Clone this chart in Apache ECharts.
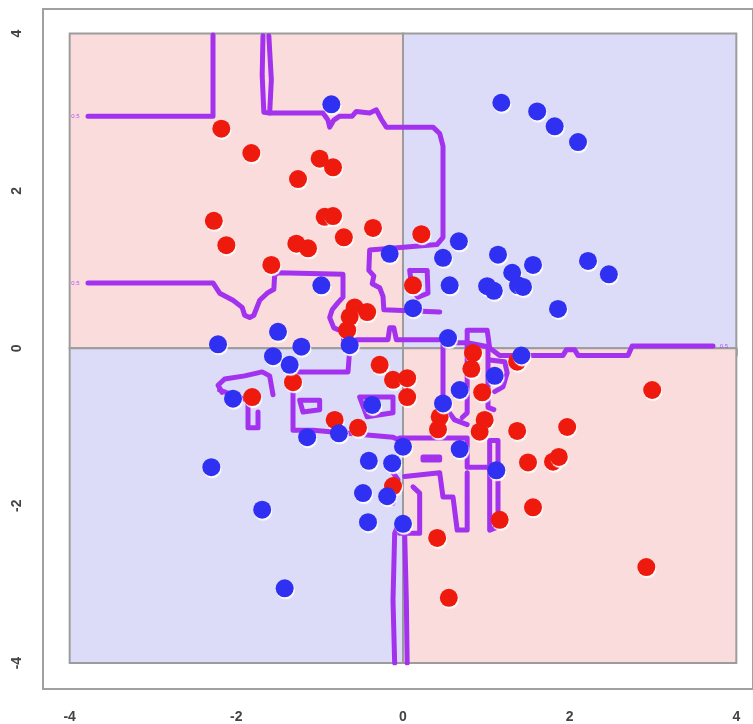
<!DOCTYPE html>
<html><head><meta charset="utf-8">
<script src="https://cdn.jsdelivr.net/npm/echarts@6/dist/echarts.min.js"></script>
<style>html,body{margin:0;padding:0;background:#fff}#c{width:753px;height:724px}</style>
</head><body><div id="c"></div>
<script>
// axis ticks
const tickValues = [-4, -2, 0, 2, 4];
// quadrant rectangles: [x0, y0, x1, y1, class] (class 0 = red region, 1 = blue region)
const quadrants = [[-4, 0, 0, 4, 0], [0, 0, 4, 4, 1], [-4, -4, 0, 0, 1], [0, -4, 4, 0, 0]];
// red class points
const redPoints = [
  [-2.18, 2.79], [-1.82, 2.48], [-1.00, 2.41], [-0.84, 2.30], [-1.26, 2.15], [-2.27, 1.62], [-2.12, 1.31],
  [-1.28, 1.33], [-1.14, 1.27], [-0.94, 1.67], [-0.84, 1.68], [-0.36, 1.53], [-0.71, 1.41], [-1.58, 1.06],
  [0.22, 1.45], [0.12, 0.80], [-0.58, 0.52], [-0.43, 0.46], [-0.64, 0.40], [-0.67, 0.23], [-1.32, -0.43],
  [-1.81, -0.62], [-0.28, -0.21], [-0.12, -0.40], [0.05, -0.38], [0.05, -0.62], [-0.82, -0.91], [-0.54, -1.01],
  [-0.12, -1.75], [0.84, -0.06], [0.82, -0.26], [1.37, -0.17], [0.95, -0.56], [2.99, -0.53], [0.44, -0.87],
  [0.42, -1.03], [0.98, -0.91], [0.92, -1.06], [1.37, -1.05], [1.97, -1.00], [1.50, -1.45], [1.80, -1.44],
  [1.87, -1.38], [1.56, -2.02], [1.16, -2.18], [0.41, -2.41], [2.92, -2.78], [0.55, -3.17]
];
// blue class points
const bluePoints = [
  [-0.86, 3.10], [1.18, 3.12], [1.61, 3.01], [1.82, 2.82], [2.10, 2.62], [-0.16, 1.20], [0.67, 1.36],
  [0.48, 1.15], [1.14, 1.19], [1.56, 1.06], [1.31, 0.96], [2.22, 1.11], [2.47, 0.94], [0.56, 0.80],
  [1.01, 0.79], [1.09, 0.73], [1.38, 0.80], [1.44, 0.78], [1.86, 0.50], [0.12, 0.51], [0.54, 0.13],
  [-0.98, 0.80], [-1.50, 0.21], [-2.22, 0.05], [-1.22, 0.02], [-1.56, -0.10], [-1.36, -0.21], [-0.64, 0.04],
  [1.42, -0.09], [1.10, -0.35], [0.68, -0.53], [0.48, -0.70], [-2.04, -0.64], [-0.37, -0.72], [-1.15, -1.13],
  [-0.77, -1.08], [0.00, -1.25], [0.68, -1.28], [1.12, -1.55], [-0.41, -1.43], [-0.13, -1.46], [-2.30, -1.51],
  [-0.48, -1.84], [-0.19, -1.88], [-1.69, -2.05], [-0.42, -2.21], [0.00, -2.23], [-1.42, -3.05]
];
// 0.5 level decision-boundary contour pieces
const contourPaths = [
  [[-3.78, 2.95], [-2.28, 2.95], [-2.28, 3.98]],
  [[-1.68, 3.97], [-1.69, 3.47], [-1.67, 3.00], [-1.60, 2.99]],
  [[-1.61, 3.97], [-1.58, 3.41], [-1.60, 2.99], [-0.96, 2.99], [-0.90, 2.90], [-0.88, 2.81], [-0.83, 2.90],
   [-0.76, 2.95], [-0.61, 2.95], [-0.56, 3.01], [-0.40, 2.99], [-0.32, 3.03], [-0.26, 2.91], [-0.20, 2.81],
   [0.36, 2.81], [0.44, 2.73], [0.48, 2.57], [0.48, 1.41], [0.41, 1.32], [-0.40, 1.25], [-0.41, 0.99],
   [-0.35, 0.92], [-0.37, 0.82], [-0.28, 0.77], [-0.24, 0.66], [-0.23, 0.49], [0.44, 0.46]],
  [[-3.78, 0.83], [-2.28, 0.83], [-2.20, 0.70], [-2.04, 0.61], [-1.93, 0.52], [-1.90, 0.42], [-1.84, 0.39],
   [-1.79, 0.42], [-1.72, 0.61], [-1.63, 0.70], [-1.55, 0.75], [-1.54, 0.93], [-1.50, 0.96], [-0.72, 0.94],
   [-0.72, 0.65], [-0.78, 0.58], [-0.85, 0.49], [-0.88, 0.39], [-0.83, 0.26], [-0.72, 0.21], [-0.71, 0.11],
   [-0.18, 0.11], [-0.16, 0.26], [-0.11, 0.26], [-0.08, 0.11], [0.48, 0.11]],
  [[0.08, 0.99], [0.29, 0.99], [0.30, 0.70], [0.18, 0.65], [0.11, 0.74], [0.08, 0.99]],
  [[0.48, 0.11], [0.48, -0.66], [0.53, -0.78], [0.62, -0.91], [0.77, -0.97]],
  [[3.72, 0.03], [2.75, 0.03], [2.70, -0.09], [2.10, -0.09], [2.06, -0.02], [1.96, -0.02], [1.92, -0.09],
   [1.16, -0.09], [1.02, 0.02], [0.77, 0.07], [0.50, 0.07]],
  [[0.77, 0.04], [0.77, 0.23], [1.01, 0.23], [1.04, 0.00]],
  [[0.77, 0.07], [0.77, -0.82], [0.71, -0.88]],
  [[1.02, 0.02], [1.02, -0.75], [1.09, -0.78]],
  [[1.04, -0.15], [1.22, -0.17], [1.25, -0.31], [1.20, -0.49], [1.10, -0.55]],
  [[-0.04, -1.14], [0.77, -1.14], [0.77, -1.51], [1.08, -1.51]],
  [[1.04, -1.17], [1.14, -1.17], [1.14, -2.27], [1.04, -2.31], [1.04, -1.17]],
  [[0.02, -1.63], [0.44, -1.58], [0.48, -1.89], [0.60, -1.89], [0.65, -2.31], [0.77, -2.31], [0.77, -1.58]],
  [[-0.04, -2.35], [0.20, -2.35], [0.20, -1.84], [0.12, -1.76]],
  [[0.24, -1.38], [0.44, -1.38], [0.44, -1.42], [0.24, -1.42], [0.24, -1.38]],
  [[-0.10, -4.0], [-0.12, -3.20], [-0.10, -2.35], [-0.04, -2.21], [0.02, -2.35], [0.04, -3.20], [0.05, -4.0]],
  [[-0.12, -1.58], [-0.06, -1.67], [-0.12, -1.97]],
  [[-2.17, -0.56], [-2.22, -0.47], [-2.14, -0.39], [-1.90, -0.35], [-1.69, -0.30], [-1.60, -0.35], [-1.56, -0.59]],
  [[-2.20, -0.53], [-1.87, -0.66]],
  [[-1.86, -0.72], [-1.86, -1.01], [-1.74, -1.01], [-1.74, -0.81]],
  [[-0.71, 0.11], [-0.64, -0.02], [-0.66, -0.30], [-1.32, -0.30], [-1.32, -1.04], [-1.08, -1.04], [-0.12, -1.13],
   [-0.04, -1.17], [0.05, -1.29]],
  [[-1.24, -0.66], [-1.00, -0.66], [-1.00, -0.78], [-1.20, -0.81], [-1.24, -0.66]],
  [[-0.52, -0.62], [-0.12, -0.62], [-0.12, -0.82], [-0.43, -0.87], [-0.52, -0.62]]
];
// positions of the small contour level labels
const contourLabels = [[-3.93, 2.95], [-3.93, 0.83], [3.85, 0.03]];

const quadColors = ['#fadcdc', '#dcdcf9'];
const purple = '#a232ee';
const labelStyle = { color: '#444', fontSize: 14, fontWeight: 'bold', fontFamily: 'Liberation Sans, Arial, sans-serif' };

const chart = echarts.init(document.getElementById('c'), null, { renderer: 'canvas' });

const series = [
  {
    type: 'custom', xAxisIndex: 1, yAxisIndex: 1, z: 1,
    data: quadrants,
    encode: { x: [0, 2], y: [1, 3] },
    renderItem: function (params, api) {
      const p0 = api.coord([api.value(0), api.value(3)]);
      const p1 = api.coord([api.value(2), api.value(1)]);
      return {
        type: 'rect',
        shape: { x: p0[0], y: p0[1], width: p1[0] - p0[0], height: p1[1] - p0[1] },
        style: { fill: quadColors[api.value(4)], stroke: '#9c9c9c', lineWidth: 2 }
      };
    },
    silent: true
  }
];
contourPaths.forEach(function (path) {
  series.push({
    type: 'line', xAxisIndex: 1, yAxisIndex: 1, z: 3,
    data: path, showSymbol: false, symbol: 'none', silent: true, animation: false,
    lineStyle: { color: purple, width: 5, cap: 'round', join: 'round' }
  });
});
series.push({
  type: 'scatter', xAxisIndex: 1, yAxisIndex: 1, z: 4,
  data: contourLabels, symbolSize: 0, silent: true,
  label: { show: true, formatter: '0.5', fontSize: 6, color: purple, position: 'inside' }
});
series.push({
  type: 'scatter', xAxisIndex: 1, yAxisIndex: 1, z: 5, data: redPoints, symbolSize: 18,
  itemStyle: { color: '#ee1a0e', opacity: 1, shadowColor: 'rgba(255,255,255,0.95)', shadowOffsetX: 1, shadowOffsetY: 2, shadowBlur: 1 }
});
series.push({
  type: 'scatter', xAxisIndex: 1, yAxisIndex: 1, z: 5, data: bluePoints, symbolSize: 18,
  itemStyle: { color: '#3030f2', opacity: 1, shadowColor: 'rgba(255,255,255,0.95)', shadowOffsetX: 1, shadowOffsetY: 2, shadowBlur: 1 }
});

chart.setOption({
  animation: false,
  backgroundColor: '#ffffff',
  grid: [
    { left: 43, top: 9, width: 720, height: 680, show: true, borderColor: '#a0a0a0', borderWidth: 2, backgroundColor: 'transparent', z: 0 },
    { left: 69.67, top: 33.5, width: 666.67, height: 629.6 }
  ],
  xAxis: [
    { gridIndex: 0, type: 'value', min: -4.32, max: 4.32, show: false },
    {
      gridIndex: 1, type: 'value', min: tickValues[0], max: tickValues[tickValues.length - 1], interval: 2,
      position: 'bottom', offset: 25.9,
      axisLine: { show: false }, splitLine: { show: false },
      axisTick: { show: true, length: 8, lineStyle: { color: '#999', width: 1.5 } },
      axisLabel: Object.assign({ margin: 21 }, labelStyle)
    }
  ],
  yAxis: [
    { gridIndex: 0, type: 'value', min: -4.32, max: 4.32, show: false },
    {
      gridIndex: 1, type: 'value', min: tickValues[0], max: tickValues[tickValues.length - 1], interval: 2,
      position: 'left', offset: 26.67,
      axisLine: { show: false }, splitLine: { show: false },
      axisTick: { show: true, length: 8, lineStyle: { color: '#999', width: 1.5 } },
      axisLabel: Object.assign({ margin: 19, rotate: 90 }, labelStyle)
    }
  ],
  series: series
});
</script>
</body></html>
